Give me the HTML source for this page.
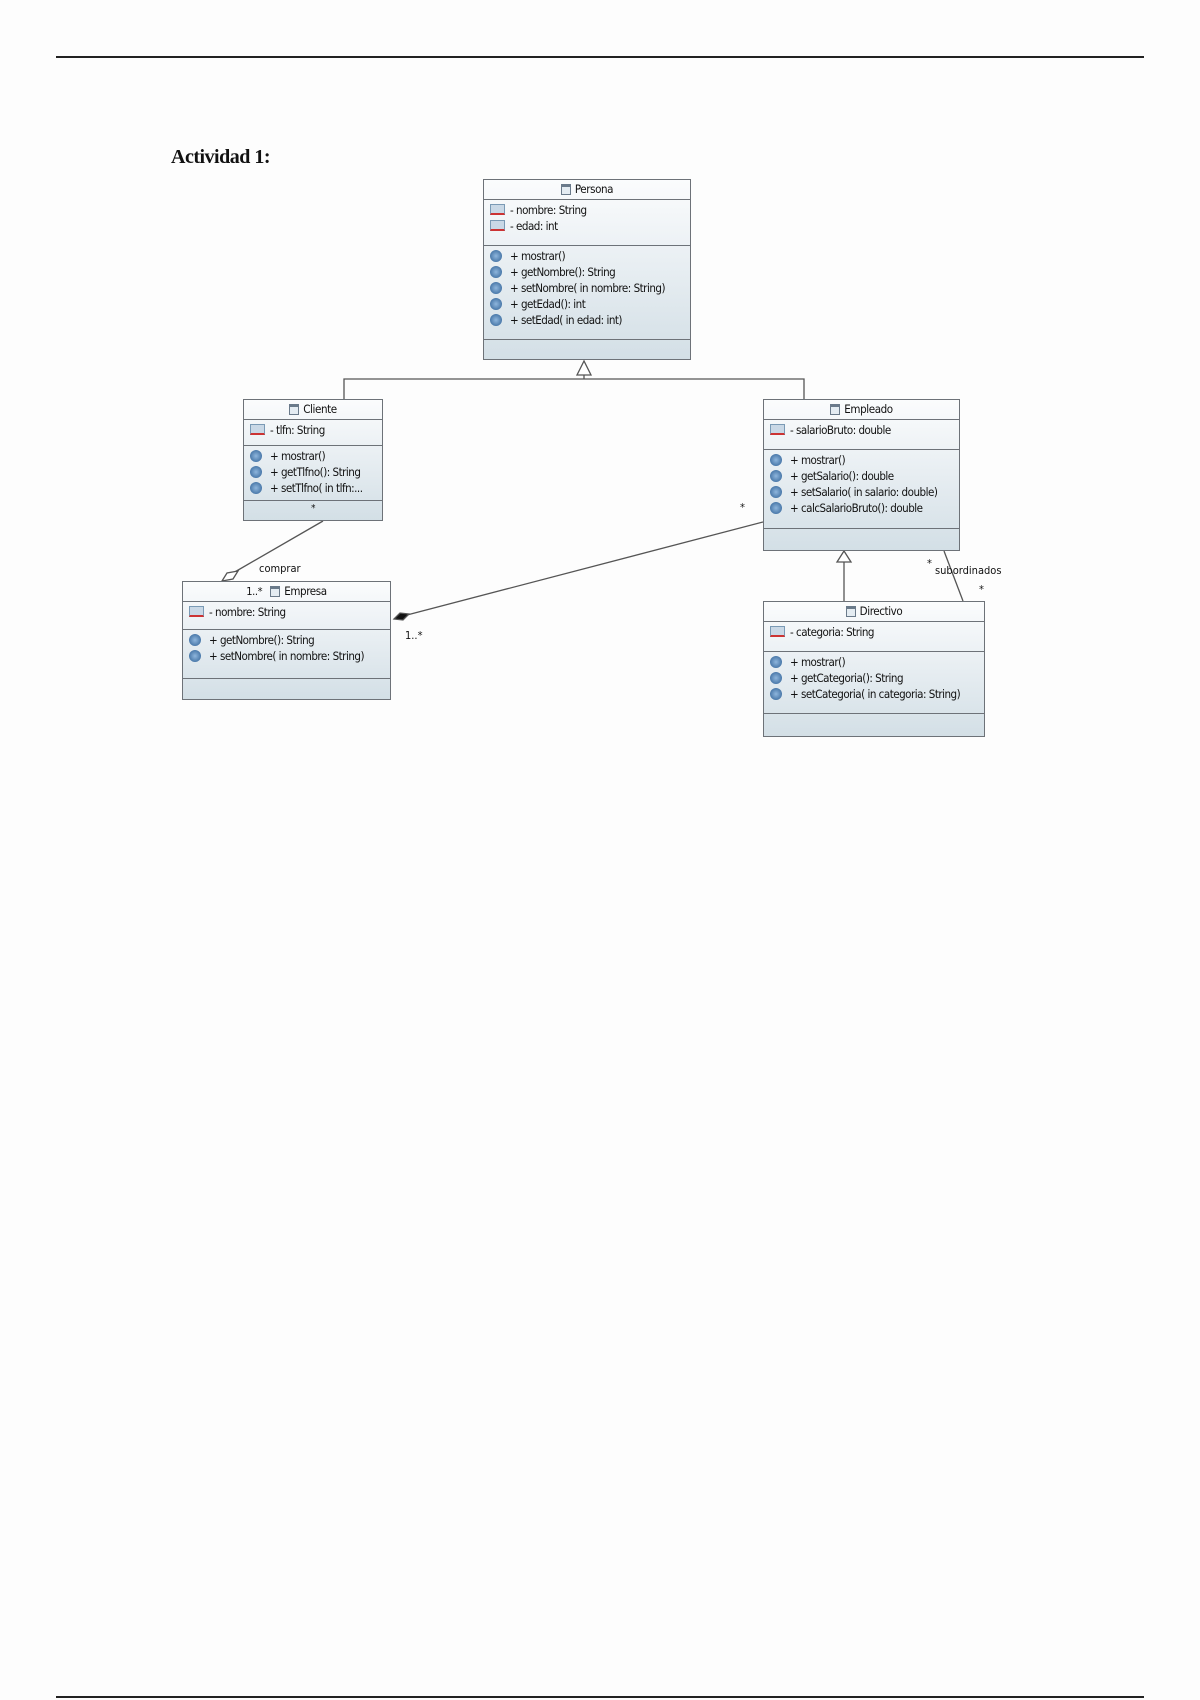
<!DOCTYPE html>
<html><head><meta charset="utf-8"><style>
body{margin:0;width:1200px;height:1700px;background:#fdfdfd;position:relative;overflow:hidden;font-family:"DejaVu Sans Condensed","Liberation Sans",sans-serif;}
.box{position:absolute;border:1.5px solid #6d7278;box-sizing:border-box;background:linear-gradient(#fbfcfd,#d3dfe6);}
.sec{position:absolute;left:0;right:0;border-top:1.5px solid #6d7278;}
.hd{position:absolute;left:0;right:0;top:0;text-align:center;font-size:11.5px;color:#111;letter-spacing:-0.4px;}
.row{position:absolute;font-size:11.5px;color:#111;white-space:nowrap;letter-spacing:-0.5px;}
.fi{display:inline-block;width:13px;height:8px;border:1px solid #7a9ab5;background:#c9d8e6;vertical-align:-1px;margin-right:5px;border-bottom:2px solid #c33;}
.mi{display:inline-block;width:12px;height:12px;border-radius:50%;background:radial-gradient(#8fb6dd,#2d5f94);vertical-align:-2px;margin-right:8px;}
.ci{display:inline-block;width:10px;height:11px;border:1px solid #6a7a8a;background:#e4ecf2;vertical-align:-2px;margin-right:4px;box-sizing:border-box;border-top-width:3px;}
.lb{position:absolute;font-size:11px;color:#111;}
</style></head><body>
<div style="position:absolute;left:56px;top:56px;width:1088px;height:1.5px;background:#222"></div>
<div style="position:absolute;left:56px;top:1696px;width:1088px;height:1.5px;background:#222"></div>
<div style="position:absolute;left:171px;top:146px;font-family:'Liberation Serif',serif;font-weight:bold;font-size:20px;color:#111;letter-spacing:-0.5px">Actividad 1:</div>

<svg style="position:absolute;left:0;top:0" width="1200" height="1700">
<g stroke="#555" stroke-width="1.3" fill="none">
<polyline points="344,399 344,379 804,379 804,399"/>
<line x1="584" y1="375" x2="584" y2="379"/>
<polygon points="584,361 577,375 591,375" fill="#fff"/>
<line x1="844" y1="562" x2="844" y2="601"/>
<polygon points="844,551 837,562 851,562" fill="#fff"/>
<line x1="944" y1="551" x2="963" y2="601"/>
<line x1="323" y1="521" x2="233" y2="573"/>
<polygon points="222,581 227,573 238,571 233,579" fill="#fff"/>
<line x1="763" y1="522" x2="407" y2="615"/>
<polygon points="394,619 400,613 409,614 403,620" fill="#111"/>
</g></svg>

<div class="box" style="left:483px;top:179px;width:208px;height:181px">
<div class="hd" style="top:2px"><span class="ci"></span>Persona</div>
<div class="sec" style="top:19px"></div>
<div class="row" style="left:6px;top:23px"><span class="fi"></span>- nombre: String</div>
<div class="row" style="left:6px;top:39px"><span class="fi"></span>- edad: int</div>
<div class="sec" style="top:65px"></div>
<div class="row" style="left:6px;top:69px"><span class="mi"></span>+ mostrar()</div>
<div class="row" style="left:6px;top:85px"><span class="mi"></span>+ getNombre(): String</div>
<div class="row" style="left:6px;top:101px"><span class="mi"></span>+ setNombre( in nombre: String)</div>
<div class="row" style="left:6px;top:117px"><span class="mi"></span>+ getEdad(): int</div>
<div class="row" style="left:6px;top:133px"><span class="mi"></span>+ setEdad( in edad: int)</div>
<div class="sec" style="top:159px"></div>
</div>

<div class="box" style="left:243px;top:399px;width:140px;height:122px">
<div class="hd" style="top:2px"><span class="ci"></span>Cliente</div>
<div class="sec" style="top:19px"></div>
<div class="row" style="left:6px;top:23px"><span class="fi"></span>- tlfn: String</div>
<div class="sec" style="top:45px"></div>
<div class="row" style="left:6px;top:49px"><span class="mi"></span>+ mostrar()</div>
<div class="row" style="left:6px;top:65px"><span class="mi"></span>+ getTlfno(): String</div>
<div class="row" style="left:6px;top:81px"><span class="mi"></span>+ setTlfno( in tlfn:...</div>
<div class="sec" style="top:100px"></div>
<div class="hd" style="top:103px;font-size:10px">*</div>
</div>

<div class="box" style="left:763px;top:399px;width:197px;height:152px">
<div class="hd" style="top:2px"><span class="ci"></span>Empleado</div>
<div class="sec" style="top:19px"></div>
<div class="row" style="left:6px;top:23px"><span class="fi"></span>- salarioBruto: double</div>
<div class="sec" style="top:49px"></div>
<div class="row" style="left:6px;top:53px"><span class="mi"></span>+ mostrar()</div>
<div class="row" style="left:6px;top:69px"><span class="mi"></span>+ getSalario(): double</div>
<div class="row" style="left:6px;top:85px"><span class="mi"></span>+ setSalario( in salario: double)</div>
<div class="row" style="left:6px;top:101px"><span class="mi"></span>+ calcSalarioBruto(): double</div>
<div class="sec" style="top:128px"></div>
</div>

<div class="box" style="left:763px;top:601px;width:222px;height:136px">
<div class="hd" style="top:2px"><span class="ci"></span>Directivo</div>
<div class="sec" style="top:19px"></div>
<div class="row" style="left:6px;top:23px"><span class="fi"></span>- categoria: String</div>
<div class="sec" style="top:49px"></div>
<div class="row" style="left:6px;top:53px"><span class="mi"></span>+ mostrar()</div>
<div class="row" style="left:6px;top:69px"><span class="mi"></span>+ getCategoria(): String</div>
<div class="row" style="left:6px;top:85px"><span class="mi"></span>+ setCategoria( in categoria: String)</div>
<div class="sec" style="top:111px"></div>
</div>

<div class="box" style="left:182px;top:581px;width:209px;height:119px">
<div class="hd" style="top:2px"><span style="margin-right:8px;font-size:11px">1..*</span><span class="ci"></span>Empresa</div>
<div class="sec" style="top:19px"></div>
<div class="row" style="left:6px;top:23px"><span class="fi"></span>- nombre: String</div>
<div class="sec" style="top:47px"></div>
<div class="row" style="left:6px;top:51px"><span class="mi"></span>+ getNombre(): String</div>
<div class="row" style="left:6px;top:67px"><span class="mi"></span>+ setNombre( in nombre: String)</div>
<div class="sec" style="top:96px"></div>
</div>

<div class="lb" style="left:259px;top:562px">comprar</div>
<div class="lb" style="left:405px;top:629px">1..*</div>
<div class="lb" style="left:740px;top:501px">*</div>
<div class="lb" style="left:927px;top:557px">*</div>
<div class="lb" style="left:935px;top:564px">subordinados</div>
<div class="lb" style="left:979px;top:583px">*</div>
</body></html>
